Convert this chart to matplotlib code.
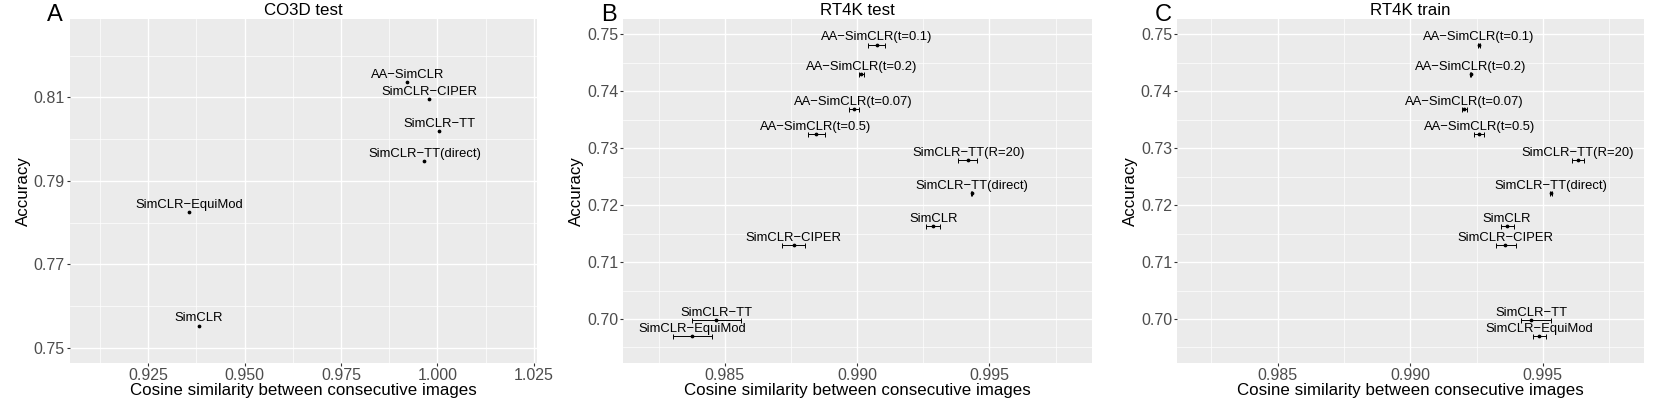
import matplotlib
matplotlib.use("Agg")
import matplotlib.pyplot as plt
import numpy as np

plt.rcParams['font.family'] = ['Liberation Sans', 'DejaVu Sans']

# Panel A: CO3D test (no visible error bars)
labels_a = ["AA−SimCLR", "SimCLR−CIPER", "SimCLR−TT", "SimCLR−TT(direct)",
            "SimCLR−EquiMod", "SimCLR"]
cos_a = [0.9922, 0.9979, 1.0005, 0.9966, 0.9357, 0.9382]
acc_a = [0.8137, 0.8096, 0.8019, 0.7947, 0.7825, 0.7553]

# Panel B: RT4K test
labels_b = ["AA−SimCLR(t=0.1)", "AA−SimCLR(t=0.2)", "AA−SimCLR(t=0.07)",
            "AA−SimCLR(t=0.5)", "SimCLR−TT(R=20)", "SimCLR−TT(direct)",
            "SimCLR", "SimCLR−CIPER", "SimCLR−TT", "SimCLR−EquiMod"]
cos_b = [0.99074, 0.99016, 0.98987, 0.98845, 0.99420, 0.99434,
         0.99288, 0.98760, 0.98468, 0.98376]
cos_lo_b = [0.99043, 0.99007, 0.98968, 0.98814, 0.99383, 0.99432,
            0.99262, 0.98717, 0.98377, 0.98303]
cos_hi_b = [0.99104, 0.99025, 0.99007, 0.98879, 0.99454, 0.99436,
            0.99315, 0.98805, 0.98562, 0.98453]
acc_b = [0.74824, 0.74303, 0.73694, 0.73244, 0.72793, 0.72207,
         0.71634, 0.71300, 0.69982, 0.69701]

# Panel C: RT4K train
labels_c = labels_b
cos_c = [0.99258, 0.99228, 0.99204, 0.99260, 0.99631, 0.99531,
         0.99365, 0.99359, 0.99456, 0.99487]
cos_lo_c = [0.99254, 0.99225, 0.99195, 0.99240, 0.99610, 0.99528,
            0.99344, 0.99322, 0.99417, 0.99464]
cos_hi_c = [0.99262, 0.99231, 0.99213, 0.99280, 0.99655, 0.99534,
            0.99390, 0.99399, 0.99530, 0.99511]
acc_c = acc_b

titles = ["CO3D test", "RT4K test", "RT4K train"]
letters = ["A", "B", "C"]

W, H = 1661, 400
fig = plt.figure(figsize=(W / 100, H / 100), dpi=100)

rects = [(69.6, 537.5), (622.9, 1091.8), (1176.8, 1643.6)]
top_px, bot_px = 18.5, 363.3


def style(ax, xmaj, xmin, ymaj, ymin, xfmt, yfmt):
    ax.set_facecolor("#EBEBEB")
    for s in ax.spines.values():
        s.set_visible(False)
    ax.set_xticks(xmaj)
    ax.set_xticks(xmin, minor=True)
    ax.set_yticks(ymaj)
    ax.set_yticks(ymin, minor=True)
    ax.set_xticklabels([xfmt.format(v) for v in xmaj])
    ax.set_yticklabels([yfmt.format(v) for v in ymaj])
    ax.grid(which="major", color="white", lw=1.0)
    ax.grid(which="minor", color="white", lw=0.5)
    ax.set_axisbelow(True)
    ax.tick_params(which="major", length=2.2, width=0.8, color="#333333",
                   labelsize=11.5, labelcolor="#4D4D4D", pad=1.2)
    ax.tick_params(which="minor", length=0)
    ax.set_xlabel("Cosine similarity between consecutive images", fontsize=12.2, labelpad=0)
    ax.set_ylabel("Accuracy", fontsize=12.2, labelpad=2)


def label_points(ax, xs, ys, labels):
    for x, y, lab in zip(xs, ys, labels):
        ax.annotate(lab, (x, y), xytext=(0, 3.0), textcoords="offset points",
                    ha="center", va="baseline", fontsize=9.4, color="black")


axes = []
for i, (l, r) in enumerate(rects):
    ax = fig.add_axes([l / W, 1 - bot_px / H, (r - l) / W, (bot_px - top_px) / H])
    axes.append(ax)

# A
ax = axes[0]
ax.plot(cos_a, acc_a, "o", color="black", ms=1.7)
label_points(ax, cos_a, acc_a, labels_a)
ax.set_xlim(0.90463, 1.02593)
ax.set_ylim(0.74625, 0.82893)
style(ax, [0.925, 0.95, 0.975, 1.0, 1.025], [0.9125, 0.9375, 0.9625, 0.9875, 1.0125],
      [0.75, 0.77, 0.79, 0.81], [0.76, 0.78, 0.80, 0.82], "{:.3f}", "{:.2f}")

# B and C
for ax, xs, lo, hi, ys, labs, xl in [
        (axes[1], cos_b, cos_lo_b, cos_hi_b, acc_b, labels_b, (0.98115, 0.99887)),
        (axes[2], cos_c, cos_lo_c, cos_hi_c, acc_c, labels_c, (0.98120, 0.99880))]:
    xs = np.array(xs)
    err = [xs - np.array(lo), np.array(hi) - xs]
    ax.errorbar(xs, ys, xerr=err, fmt="o", color="black", ms=1.7,
                elinewidth=0.7, capsize=1.8, capthick=0.7)
    label_points(ax, xs, ys, labs)
    ax.set_xlim(*xl)
    ax.set_ylim(0.69221, 0.75281)
    style(ax, [0.985, 0.990, 0.995], [0.9825, 0.9875, 0.9925, 0.9975],
          [0.70, 0.71, 0.72, 0.73, 0.74, 0.75],
          [0.695, 0.705, 0.715, 0.725, 0.735, 0.745], "{:.3f}", "{:.2f}")

for ax, t in zip(axes, titles):
    ax.set_title(t, fontsize=12.2, pad=2.5)

for i, lt in enumerate(letters):
    fig.text((i * W / 3 + 47) / W, 1 - 4 / H, lt, fontsize=17, va="top", ha="left")

fig.savefig("out.png", dpi=100)
